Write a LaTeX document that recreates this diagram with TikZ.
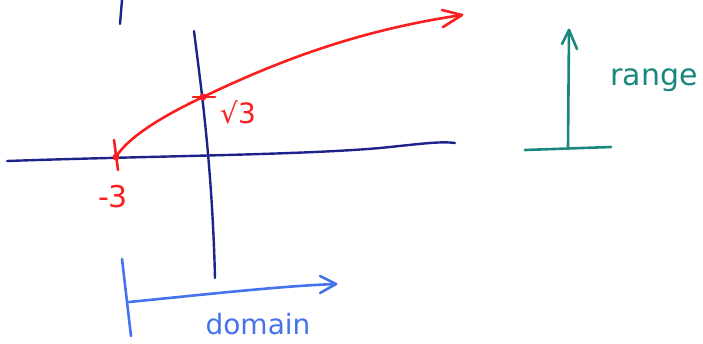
\documentclass[tikz,border=0pt]{standalone}
\usepackage{fontspec}
\setmainfont{DejaVu Sans}
\begin{document}
\begin{tikzpicture}[x=1pt,y=-1pt,
  navy/.style={draw=axisblue,line width=2.4pt,line cap=round},
  redpen/.style={draw=penred,line width=2.6pt,line cap=round,line join=round},
  tealpen/.style={draw=penteal,line width=2.6pt,line cap=round,line join=round},
  bluepen/.style={draw=penblue,line width=2.6pt,line cap=round,line join=round},
  lbl/.style={inner sep=0pt}]
\definecolor{axisblue}{RGB}{30,35,140}
\definecolor{penred}{RGB}{250,30,30}
\definecolor{penteal}{RGB}{25,135,125}
\definecolor{penblue}{RGB}{70,115,235}
\useasboundingbox (0,0) rectangle (703,343);
% coordinates
\coordinate (tl1) at (122,0);
\coordinate (tl2) at (120,24);
\coordinate (xa) at (7,161);
\coordinate (xb) at (455,143);
\coordinate (ya) at (194,31);
\coordinate (yb) at (215,278);
\coordinate (p1) at (116,157);
\coordinate (p2) at (203,97);
\coordinate (tip) at (462,15);
% top-left stroke
\draw[navy] (tl1) -- (tl2);
% x axis
\draw[navy] (xa) .. controls (150,156) and (300,155) .. (380,148) .. controls (420,144) and (440,141) .. (xb);
% y axis
\draw[navy] (ya) .. controls (200,80) and (212,160) .. (yb);
% red curve
\draw[redpen] (p1) .. controls (125,142) and (150,122) .. (p2)
  .. controls (280,60) and (360,30) .. (tip);
\draw[redpen] (442,10) -- (tip) -- (443,27);
\draw[redpen] (114,140) -- (118,170);
\fill[penred] (p1) circle (3.5pt);
\draw[redpen] (193,97) -- (215,97);
\fill[penred] (p2) circle (3.5pt);
\node[lbl,text=penred,font=\fontsize{28}{30}\selectfont] (sq) at (238,112) {√3};
\node[lbl,text=penred,font=\fontsize{30}{32}\selectfont] (m3) at (113,197) {-3};
% range
\coordinate (ra) at (568,147);
\coordinate (rb) at (569,30);
\draw[tealpen] (ra) -- (rb);
\draw[tealpen] (562,44) -- (rb) -- (577,49);
\coordinate (rl) at (525,150);
\coordinate (rr) at (611,147);
\draw[tealpen] (rl) -- (rr);
\node[lbl,text=penteal,font=\fontsize{30}{32}\selectfont] (rg) at (654,80) {range};
% domain
\coordinate (da) at (122,259);
\coordinate (db) at (131,336);
\draw[bluepen] (da) -- (db);
\coordinate (dl) at (129,302);
\coordinate (dr) at (336,284);
\draw[bluepen] (dl) .. controls (200,295) and (280,286) .. (dr);
\draw[bluepen] (320,276) -- (dr) -- (320,293);
\node[lbl,text=penblue,font=\fontsize{28}{30}\selectfont] (dm) at (258,324) {domain};
\end{tikzpicture}
\end{document}
